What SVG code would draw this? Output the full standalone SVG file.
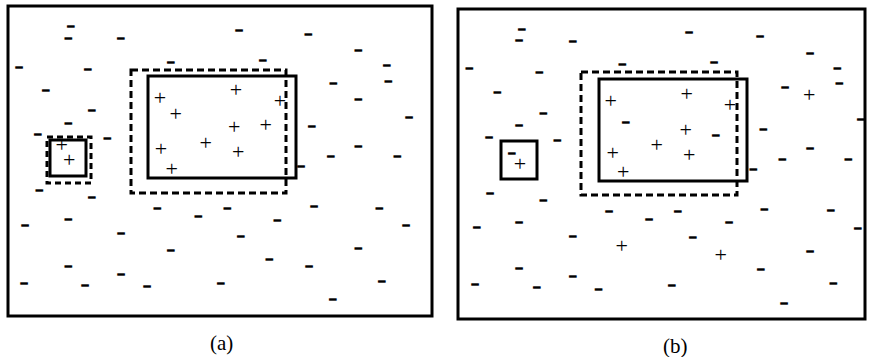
<svg xmlns="http://www.w3.org/2000/svg" width="872" height="357" viewBox="0 0 872 357">
<style>
.frame{fill:none;stroke:#000;stroke-width:3}
.solid{fill:none;stroke:#000;stroke-width:3}
.dash{fill:none;stroke:#000;stroke-width:3;stroke-dasharray:7 4}
.m{font-family:"Liberation Sans",Arial,sans-serif;font-size:11px;text-anchor:middle;fill:#000;stroke:#000;stroke-width:1.6}
.p{font-family:"Liberation Serif","Times New Roman",serif;font-size:22px;text-anchor:middle;fill:#000}
.ps{opacity:0.99}
.lbl{font-family:"Liberation Serif","Times New Roman",serif;font-size:21px;text-anchor:middle;fill:#000}
</style>
<rect width="872" height="357" fill="#fff"/>
<g id="panel-a">
<rect class="frame" x="8" y="6" width="424" height="310"/>
<rect class="dash" x="131" y="70" width="155" height="123"/>
<rect class="solid" x="148" y="76" width="148" height="102"/>
<rect class="dash" x="47" y="137" width="44" height="46" style="stroke-dasharray:6 4"/>
<rect class="solid" x="50" y="140" width="36" height="36"/>
<g id="plus-a" class="ps">
<text class="p" x="160" y="104.5">+</text>
<text class="p" x="175.7" y="120.5">+</text>
<text class="p" x="236" y="97">+</text>
<text class="p" x="280" y="108">+</text>
<text class="p" x="234.3" y="133.5">+</text>
<text class="p" x="265.7" y="132">+</text>
<text class="p" x="161" y="156">+</text>
<text class="p" x="205.7" y="149.5">+</text>
<text class="p" x="238.3" y="158.5">+</text>
<text class="p" x="171.7" y="176">+</text>
<text class="p" x="61.7" y="152">+</text>
<text class="p" x="69.3" y="167">+</text>
</g>
<g id="minus-a">
<text class="m" x="70.7" y="29">–</text>
<text class="m" x="68.3" y="40.7">–</text>
<text class="m" x="120.7" y="40.7">–</text>
<text class="m" x="19" y="69.7">–</text>
<text class="m" x="87.7" y="72.3">–</text>
<text class="m" x="45.7" y="93">–</text>
<text class="m" x="91.7" y="113">–</text>
<text class="m" x="68.3" y="126.3">–</text>
<text class="m" x="37.7" y="137">–</text>
<text class="m" x="107.3" y="141.3">–</text>
<text class="m" x="239" y="33">–</text>
<text class="m" x="170.7" y="64.7">–</text>
<text class="m" x="262.7" y="63.3">–</text>
<text class="m" x="308.3" y="37">–</text>
<text class="m" x="358.3" y="53">–</text>
<text class="m" x="386.7" y="68">–</text>
<text class="m" x="388.3" y="83.7">–</text>
<text class="m" x="333.3" y="86.3">–</text>
<text class="m" x="358.3" y="102">–</text>
<text class="m" x="409" y="119.7">–</text>
<text class="m" x="311.7" y="129">–</text>
<text class="m" x="358.3" y="148.7">–</text>
<text class="m" x="330.7" y="159">–</text>
<text class="m" x="397.3" y="159">–</text>
<text class="m" x="301" y="169">–</text>
<text class="m" x="314" y="209">–</text>
<text class="m" x="379.3" y="210.7">–</text>
<text class="m" x="406" y="228">–</text>
<text class="m" x="358.3" y="251.3">–</text>
<text class="m" x="309" y="269">–</text>
<text class="m" x="381.7" y="283.7">–</text>
<text class="m" x="332.7" y="302.3">–</text>
<text class="m" x="39.3" y="193">–</text>
<text class="m" x="91.7" y="199.7">–</text>
<text class="m" x="25" y="228">–</text>
<text class="m" x="68.3" y="222">–</text>
<text class="m" x="121" y="235.7">–</text>
<text class="m" x="68.3" y="268.7">–</text>
<text class="m" x="24" y="285.7">–</text>
<text class="m" x="85" y="288.3">–</text>
<text class="m" x="121" y="276.7">–</text>
<text class="m" x="147" y="289">–</text>
<text class="m" x="157.3" y="211.3">–</text>
<text class="m" x="198.3" y="218.7">–</text>
<text class="m" x="227.3" y="211">–</text>
<text class="m" x="277.3" y="222.7">–</text>
<text class="m" x="240.7" y="239">–</text>
<text class="m" x="170.7" y="253">–</text>
<text class="m" x="269.3" y="262.3">–</text>
<text class="m" x="220.7" y="285.7">–</text>
</g>
<text class="lbl" x="221.7" y="349.5">(a)</text>
</g>
<g id="panel-b">
<rect class="frame" x="458" y="9" width="407" height="310"/>
<rect class="dash" x="581" y="72" width="156" height="123"/>
<rect class="solid" x="599" y="79" width="148" height="102"/>
<rect class="solid" x="501" y="141" width="36" height="38"/>
<g id="plus-b" class="ps">
<text class="p" x="610.7" y="108">+</text>
<text class="p" x="686.7" y="100.5">+</text>
<text class="p" x="730" y="111.5">+</text>
<text class="p" x="685.7" y="137">+</text>
<text class="p" x="656.7" y="152">+</text>
<text class="p" x="612.7" y="159.5">+</text>
<text class="p" x="689.3" y="161.5">+</text>
<text class="p" x="623.3" y="178.5">+</text>
<text class="p" x="621.7" y="253">+</text>
<text class="p" x="720.7" y="262">+</text>
<text class="p" x="809.3" y="102">+</text>
<text class="p" x="520" y="170.5">+</text>
</g>
<g id="minus-b">
<text class="m" x="521.7" y="32">–</text>
<text class="m" x="519" y="43">–</text>
<text class="m" x="572.7" y="43.7">–</text>
<text class="m" x="469.3" y="71.3">–</text>
<text class="m" x="539.3" y="74.7">–</text>
<text class="m" x="497.3" y="95.3">–</text>
<text class="m" x="543.3" y="116.3">–</text>
<text class="m" x="519" y="128">–</text>
<text class="m" x="489" y="139.7">–</text>
<text class="m" x="557.3" y="143">–</text>
<text class="m" x="511.7" y="156.3">–</text>
<text class="m" x="689" y="35.3">–</text>
<text class="m" x="622.3" y="67.3">–</text>
<text class="m" x="714" y="65.3">–</text>
<text class="m" x="625.7" y="124.7">–</text>
<text class="m" x="715.7" y="138">–</text>
<text class="m" x="760" y="39">–</text>
<text class="m" x="810" y="56.3">–</text>
<text class="m" x="837.3" y="71.3">–</text>
<text class="m" x="839.3" y="86.3">–</text>
<text class="m" x="785" y="89.7">–</text>
<text class="m" x="860.7" y="122.3">–</text>
<text class="m" x="763.3" y="132.3">–</text>
<text class="m" x="810" y="151.3">–</text>
<text class="m" x="782.3" y="162.3">–</text>
<text class="m" x="848.3" y="162.3">–</text>
<text class="m" x="753.3" y="172.3">–</text>
<text class="m" x="764.3" y="212">–</text>
<text class="m" x="729" y="225.3">–</text>
<text class="m" x="830.7" y="213">–</text>
<text class="m" x="857.7" y="230.7">–</text>
<text class="m" x="810" y="254">–</text>
<text class="m" x="760.7" y="272">–</text>
<text class="m" x="833.3" y="285.7">–</text>
<text class="m" x="784" y="305.7">–</text>
<text class="m" x="609" y="213.7">–</text>
<text class="m" x="649" y="222">–</text>
<text class="m" x="677.7" y="213.7">–</text>
<text class="m" x="692.7" y="240.3">–</text>
<text class="m" x="671.7" y="288">–</text>
<text class="m" x="598.5" y="292">–</text>
<text class="m" x="490" y="195.7">–</text>
<text class="m" x="543.3" y="203">–</text>
<text class="m" x="476.7" y="229.7">–</text>
<text class="m" x="519" y="224.7">–</text>
<text class="m" x="572.7" y="239">–</text>
<text class="m" x="519" y="271.3">–</text>
<text class="m" x="475" y="287.3">–</text>
<text class="m" x="536.7" y="290">–</text>
<text class="m" x="572.7" y="279.3">–</text>
</g>
<text class="lbl" x="675.3" y="353">(b)</text>
</g>
</svg>
